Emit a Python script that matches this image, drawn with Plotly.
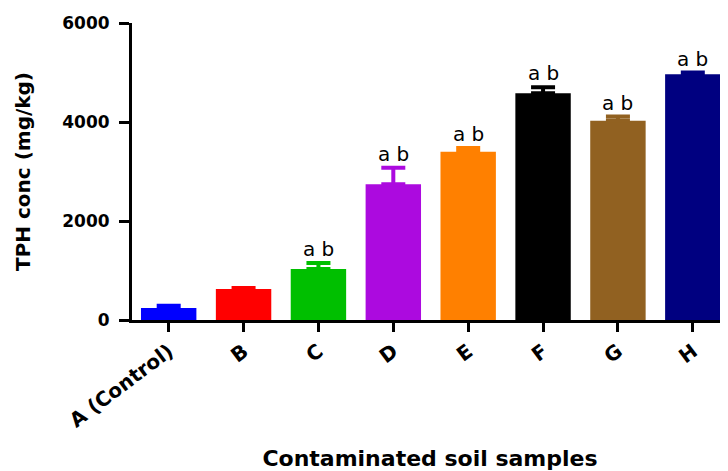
import plotly.graph_objects as go

categories = ["A (Control)", "B", "C", "D", "E", "F", "G", "H"]
tph_mean = [242, 626, 1030, 2741, 3400, 4580, 4026, 4963]
tph_err = [45, 20, 120, 335, 75, 120, 85, 35]
bar_colors = ["#0000FF", "#FF0000", "#00BF00", "#AC0ADF", "#FF8000",
              "#000000", "#916121", "#000080"]
sig_labels = ["", "", "a b", "a b", "a b", "a b", "a b", "a b"]

FONT_BOLD = "DejaVu Sans"

fig = go.Figure()
for cat, val, err, col in zip(categories, tph_mean, tph_err, bar_colors):
    fig.add_trace(go.Bar(
        x=[cat], y=[val], width=0.74,
        marker=dict(color=col, line=dict(width=0)),
        error_y=dict(type="data", array=[err], arrayminus=[0], symmetric=False,
                     color=col, thickness=4, width=12),
        showlegend=False,
    ))

for cat, val, err, lab in zip(categories, tph_mean, tph_err, sig_labels):
    if lab:
        fig.add_annotation(x=cat, y=val + err, text=lab, showarrow=False,
                           xanchor="center", yanchor="bottom", yshift=0,
                           font=dict(family="DejaVu Sans", size=20, color="#000"))

fig.update_layout(
    width=720, height=463,
    margin=dict(l=124, r=0, t=15, b=151, autoexpand=False),
    paper_bgcolor="white", plot_bgcolor="white",
    barmode="overlay",
    font=dict(family=FONT_BOLD, color="#000"),
)
fig.update_xaxes(
    type="category", range=[-0.49, 7.47],
    showline=True, linecolor="#000", linewidth=3,
    ticks="outside", ticklen=9, tickwidth=3, tickcolor="#000",
    tickangle=-37, showgrid=False, zeroline=False,
    tickfont=dict(family=FONT_BOLD, size=20, weight="bold"),
    title=dict(text="Contaminated soil samples", standoff=30,
               font=dict(family=FONT_BOLD, size=22, weight="bold")),
    automargin=False,
)
fig.update_yaxes(
    range=[0, 6000], tickvals=[0, 2000, 4000, 6000],
    showline=True, linecolor="#000", linewidth=3,
    ticks="outside", ticklen=10, tickwidth=3, tickcolor="#000",
    ticklabelstandoff=6,
    showgrid=False, zeroline=False,
    tickfont=dict(family=FONT_BOLD, size=17, weight="bold"),
    title=dict(text="TPH conc (mg/kg)", standoff=27,
               font=dict(family=FONT_BOLD, size=20, weight="bold")),
    automargin=False,
)

fig.write_html("out.html")
